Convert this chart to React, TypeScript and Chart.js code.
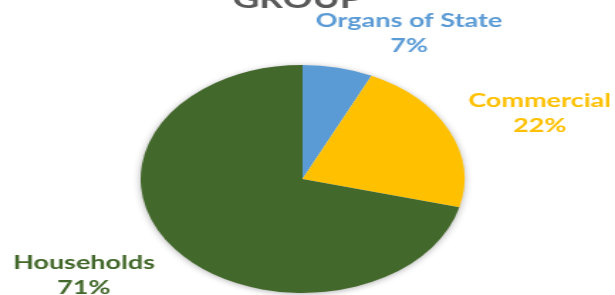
import React, { useEffect, useRef } from "react";
import { Chart, registerables } from "chart.js";

Chart.register(...registerables);

const categories = ["Organs of State", "Commercial", "Households"];
const shares = [7, 22, 71];
const sliceColors = ["#5B9BD5", "#FFC000", "#43682B"];
const titleText = "GROUP";

// internal canvas is drawn narrower then stretched horizontally
const INNER_W = 433;
const OUTER_W = 615;
const H = 295;

const labelFont = "bold 19px Lato";
const labelNudgeDeg = [14.6, 3.6, 5.9];
const labelDistFactor = [1.44, 1.575, 1.59];

const shadowPlugin = {
  id: "pieShadow",
  beforeDatasetsDraw(chart: any) {
    const meta = chart.getDatasetMeta(0);
    const arc = meta.data[0];
    if (!arc) return;
    const { x, y, outerRadius } = arc.getProps(["x", "y", "outerRadius"], true);
    const ctx = chart.ctx;
    ctx.save();
    ctx.shadowColor = "rgba(0,0,0,0.35)";
    ctx.shadowBlur = 6;
    ctx.shadowOffsetX = 0;
    ctx.shadowOffsetY = 1;
    ctx.beginPath();
    ctx.arc(x, y, outerRadius - 0.5, 0, Math.PI * 2);
    ctx.fillStyle = "#ffffff";
    ctx.fill();
    ctx.restore();
  },
};

const labelPlugin = {
  id: "outerLabels",
  afterDraw(chart: any) {
    const ctx = chart.ctx;
    const meta = chart.getDatasetMeta(0);
    const data = chart.data.datasets[0].data as number[];
    const total = data.reduce((a, b) => a + b, 0);
    ctx.save();
    ctx.font = labelFont;
    ctx.textAlign = "center";
    ctx.textBaseline = "alphabetic";
    meta.data.forEach((arc: any, i: number) => {
      const { x, y, startAngle, endAngle, outerRadius } = arc.getProps(
        ["x", "y", "startAngle", "endAngle", "outerRadius"],
        true
      );
      const mid = (startAngle + endAngle) / 2 + (labelNudgeDeg[i] * Math.PI) / 180;
      const d = outerRadius * labelDistFactor[i];
      const cx = x + Math.cos(mid) * d;
      const cy = y + Math.sin(mid) * d;
      const pct = Math.round((data[i] / total) * 100) + "%";
      ctx.fillStyle = sliceColors[i];
      ctx.fillText(chart.data.labels[i], cx, cy - 5.5);
      ctx.fillText(pct, cx, cy + 19.5);
    });
    // title (only its last line, clipped by the top edge)
    ctx.fillStyle = "#595959";
    ctx.font = "bold 26px Lato";
    ctx.fillText(titleText, 209.5, 7.5);
    ctx.restore();
  },
};

export default function App() {
  const ref = useRef<HTMLCanvasElement | null>(null);
  useEffect(() => {
    if (!ref.current) return;
    const chart = new Chart(ref.current, {
      type: "pie",
      data: {
        labels: categories,
        datasets: [
          {
            data: shares,
            backgroundColor: sliceColors,
            borderWidth: 0,
          },
        ],
      },
      options: {
        responsive: false,
        animation: false,
        devicePixelRatio: 1,
        layout: { padding: { top: 65, bottom: 2, left: 0, right: 7 } },
        plugins: {
          legend: { display: false },
          title: { display: false },
          tooltip: { enabled: false },
        },
      },
      plugins: [shadowPlugin, labelPlugin],
    });
    return () => chart.destroy();
  }, []);
  return (
    <div
      style={{
        position: "fixed",
        left: 0,
        top: 0,
        width: OUTER_W,
        height: H,
        overflow: "hidden",
        background: "#ffffff",
      }}
    >
      <canvas
        ref={ref}
        width={INNER_W}
        height={H}
        style={{ width: OUTER_W + "px", height: H + "px", display: "block" }}
      />
    </div>
  );
}
